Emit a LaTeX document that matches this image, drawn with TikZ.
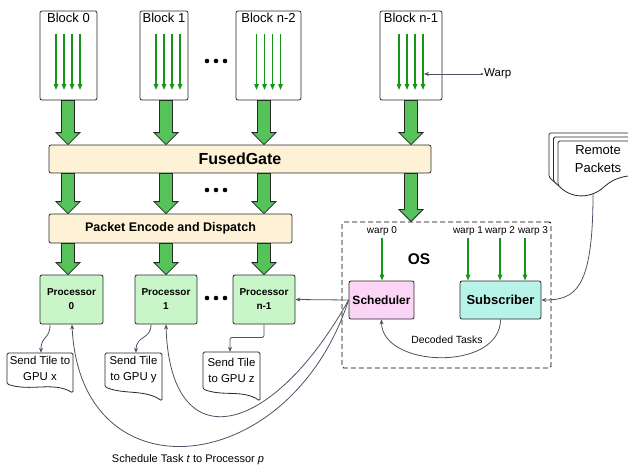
\documentclass[tikz,border=0pt]{standalone}
\usepackage{fontspec}
\setmainfont{Liberation Sans}
\usetikzlibrary{arrows.meta,calc}
\definecolor{wgreen}{RGB}{22,150,22}
\definecolor{fatfill}{RGB}{85,195,90}
\definecolor{cream}{RGB}{253,241,214}
\definecolor{procfill}{RGB}{200,246,200}
\definecolor{schfill}{RGB}{252,212,246}
\definecolor{subfill}{RGB}{184,243,234}
\definecolor{conncol}{RGB}{74,82,100}
\definecolor{edge}{RGB}{40,40,40}
\newcommand\fatarr[3]{\path[fatarrow] let \p1=(#2), \p2=(#3) in
  (#1pt-6.5pt,\y1) -- (#1pt-6.5pt,\y2+12pt) -- (#1pt-12pt,\y2+12pt) -- (#1pt,\y2)
  -- (#1pt+12pt,\y2+12pt) -- (#1pt+6.5pt,\y2+12pt) -- (#1pt+6.5pt,\y1) -- cycle;}
\newcommand\warpset[1]{\foreach \d in {-12,-4,4,12} \draw[warpar] (#1+\d,34) -- (#1+\d,90);}
\newcommand\docshape[5]{\draw[docline] (#1,#4) -- (#1,#2) -- (#3,#2) -- (#3,#5)
  .. controls ({#3-0.3*(#3-#1)},{#5-12}) and ({#1+0.35*(#3-#1)},{#4+8}) .. (#1,#4) -- cycle;}
\newcommand\dotrow[1]{\fill (207,#1) circle (2.3pt) (216,#1) circle (2.3pt) (225,#1) circle (2.3pt);}
\begin{document}
\begin{tikzpicture}[x=1pt,y=-1pt,
  blockbox/.style={draw=edge, line width=0.8pt, rounded corners=2pt, fill=white, minimum height=89pt, inner sep=0pt},
  blabel/.style={font=\fontsize{13}{15}\selectfont},
  bar/.style={draw=edge, line width=0.8pt, rounded corners=2pt, fill=cream, inner sep=0pt},
  proc/.style={draw=edge, line width=0.8pt, rounded corners=2pt, fill=procfill, minimum height=49pt, inner sep=0pt, align=center, font=\bfseries\fontsize{10}{14}\selectfont},
  fatarrow/.style={draw=edge, line width=0.8pt, fill=fatfill, line join=miter},
  warpar/.style={draw=wgreen, line width=1.3pt, -{Triangle[length=6pt,width=4.5pt]}},
  conn/.style={draw=conncol, line width=0.8pt, -{Stealth[length=5pt,width=4pt]}},
  docline/.style={draw=edge, line width=0.8pt, fill=white, rounded corners=1.5pt},
  doctext/.style={align=center, inner sep=0pt, font=\fontsize{11.4}{16}\selectfont},
  small/.style={font=\fontsize{10}{12}\selectfont, inner sep=1pt}]
\useasboundingbox (0,0) rectangle (628,466);

% blocks
\node[blockbox, minimum width=57pt, label={[blabel,anchor=north,inner sep=2.5pt]north:Block 0}] (b0) at (68.5,55.5) {};
\node[blockbox, minimum width=48pt, label={[blabel,anchor=north,inner sep=2.5pt]north:Block 1}] (b1) at (164,55.5) {};
\node[blockbox, minimum width=65pt, label={[blabel,anchor=north,inner sep=2.5pt]north:Block n-2}] (b2) at (268.5,55.5) {};
\node[blockbox, minimum width=62pt, label={[blabel,anchor=north,inner sep=2.5pt]north:Block n-1}] (b3) at (411,55.5) {};
\warpset{68}\warpset{168}\warpset{268.5}\warpset{411}
\dotrow{61}

% warp annotation
\node[anchor=west, inner sep=1pt, font=\fontsize{11.5}{13}\selectfont] (wl) at (483,74) {Warp};
\coordinate (wt) at (424,74);
\draw[conn, {Circle[length=2.2pt]}-{Stealth[length=5pt,width=4pt]}] (wl.west) -- (wt);

% FusedGate and Packet encode
\node[bar, minimum width=382pt, minimum height=28pt, font=\bfseries\fontsize{16}{18}\selectfont] (fg) at (240,159) {FusedGate};
\node[bar, minimum width=243pt, minimum height=29pt, font=\bfseries\fontsize{12.5}{14}\selectfont] (pe) at (170.5,228.5) {Packet Encode and Dispatch};

% processors
\node[proc, minimum width=63pt] (p0) at (71.5,299.5) {Processor\\0};
\node[proc, minimum width=62pt] (p1) at (166,299.5) {Processor\\1};
\node[proc, minimum width=62pt] (pn) at (264,299.5) {Processor\\n-1};
\dotrow{190}
\dotrow{298}

% OS
\node[draw=black, line width=0.9pt, dashed, dash pattern=on 5pt off 3pt, rounded corners=2pt, minimum width=209pt, minimum height=146pt] (os) at (446.5,295) {};
\node[font=\bfseries\fontsize{15.5}{17}\selectfont, inner sep=0pt] (oslabel) at (419,259) {OS};
\node[draw=edge, line width=0.8pt, rounded corners=2pt, fill=schfill, minimum width=65pt, minimum height=38pt, inner sep=0pt, font=\bfseries\fontsize{12}{14}\selectfont] (sch) at (381.5,300) {Scheduler};
\node[draw=edge, line width=0.8pt, rounded corners=2pt, fill=subfill, minimum width=81pt, minimum height=38pt, inner sep=0pt, font=\bfseries\fontsize{13}{15}\selectfont] (sub) at (500.5,300) {Subscriber};
\node[small] (w0) at (382,231) {warp 0};
\node[small] (w1) at (468,231) {warp 1};
\node[small] (w2) at (500,231) {warp 2};
\node[small] (w3) at (533,231) {warp 3};
\draw[warpar] ([yshift=-1pt]w0.south) -- (w0.south |- sch.north);
\draw[warpar] ([yshift=-1pt]w1.south) -- (w1.south |- sub.north);
\draw[warpar] ([yshift=-1pt]w2.south) -- (w2.south |- sub.north);
\draw[warpar] ([xshift=-8pt,yshift=-1pt]w3.south) -- ([xshift=-8pt]w3.south |- sub.north);
\draw[conn] (sub.south) .. controls (500.5,372) and (381.5,368) .. (sch.south);
\node[small, font=\fontsize{10.4}{12}\selectfont] (dt) at (447,340) {Decoded Tasks};

% fat arrows
\fatarr{68}{b0.south}{fg.north}
\fatarr{166}{b1.south}{fg.north}
\fatarr{264}{b2.south}{fg.north}
\fatarr{411}{b3.south}{fg.north}
\fatarr{68}{fg.south}{pe.north}
\fatarr{166}{fg.south}{pe.north}
\fatarr{264}{fg.south}{pe.north}
\fatarr{411}{fg.south}{os.north}
\fatarr{68}{pe.south}{p0.north}
\fatarr{166}{pe.south}{p1.north}
\fatarr{264}{pe.south}{pn.north}

% documents
\docshape{7}{353}{73}{384}{393}
\docshape{105}{353}{162}{387}{401}
\docshape{203}{352}{260}{389}{401}
\node[doctext, minimum width=66pt, minimum height=31pt] (dx) at (40,368.5) {Send Tile to\\GPU x};
\node[doctext, minimum width=57pt, minimum height=34pt] (dy) at (133.5,370) {Send Tile\\to GPU y};
\node[doctext, minimum width=57pt, minimum height=37pt] (dz) at (231.5,370.5) {Send Tile\\to GPU z};
\draw[conn] ([xshift=-21.5pt]p0.south) .. controls (50,340) and (41,335) .. ([xshift=1pt]dx.north);
\draw[conn] ([xshift=-15pt]p1.south) .. controls (151,340) and (136,335) .. ([xshift=2.5pt]dy.north);
\draw[conn, rounded corners=2pt] (pn.south) -- ++(0,13) -| ([xshift=-1.5pt]dz.north);

% scheduler connectors
\draw[conn] (sch.west) -- (pn.east);
\draw[conn] (sch.west) .. controls (270,440) and (170,460) .. (p1.south);
\draw[conn] (sch.west) .. controls (290,480) and (80,500) .. ([xshift=0.5pt]p0.south);
\node[font=\fontsize{11}{13}\selectfont, inner sep=1pt] (st) at (188,460) {Schedule Task \textit{t} to Processor \textit{p}};

% remote packets
\begin{scope}
\clip (0,0) rectangle (628,466);
\foreach \s in {9,4.5,0} {
  \draw[docline, shift={(-\s,-\s*0.9)}] (558,185) -- (558,141) -- (670,141) -- (670,183)
    .. controls (640,172) and (620,174) .. (605,186)
    .. controls (592,198) and (572,200) .. (558,185) -- cycle;
}
\end{scope}
\node[align=center, inner sep=0pt, font=\fontsize{13}{18}\selectfont] (rp) at (598,159) {Remote\\Packets};
\coordinate (rpb) at (593,194);
\draw[conn] (rpb) .. controls (593,290) and (575,300) .. (sub.east);
\end{tikzpicture}
\end{document}
